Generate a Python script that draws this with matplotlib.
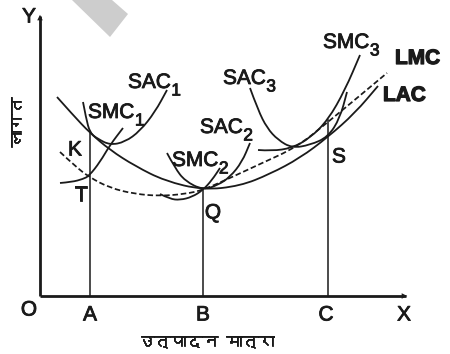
import matplotlib
matplotlib.use("Agg")
import matplotlib.pyplot as plt
from matplotlib.path import Path
from matplotlib.patches import PathPatch, Polygon, FancyArrowPatch
from matplotlib import font_manager
import matplotlib.patheffects as pe

# ---------------- data (output on x, cost on y; origin O at 0,0) ----------------
lac_x = [17, 33, 50, 70, 95, 125, 163, 200, 230, 260, 288, 315, 338]
lac_y = [199, 181, 163, 146, 130, 115, 106, 110, 122, 138, 159, 183, 210]

lmc_x = [20, 35, 49, 70, 95, 120, 145, 163, 190, 220, 257, 288, 317, 347]
lmc_y = [144, 130, 119, 108, 102, 100, 102, 106, 118, 132, 149, 174, 198, 223]

sac1_x = [43, 46, 50, 58, 70, 85, 100, 115, 127]
sac1_y = [194, 178, 163, 157, 151, 154, 165, 184, 206]

smc1_x = [20, 32, 43, 49, 60, 70, 83]
smc1_y = [113, 114, 117, 120, 134, 151, 168]

sac2_x = [127, 135, 145, 163, 178, 190, 202, 210]
sac2_y = [143, 128, 115, 106, 111, 119, 134, 153]

smc2_x = [120, 130, 140, 152, 163, 172, 180]
smc2_y = [102, 97, 96, 99, 106, 116, 128]

sac3_x = [210, 218, 227, 238, 252, 270, 288, 300, 307]
sac3_y = [208, 186, 168, 156, 148, 151, 159, 178, 204]

smc3_x = [218, 232, 252, 270, 288, 305, 320]
smc3_y = [146, 145, 148, 158, 176, 206, 241]

# output levels A, B, C and the heights of the guide lines
out_names = ["A", "B", "C"]
out_x = [50, 163, 288]
guide_top = [163, 106, 176]

point_names = ["K", "T", "Q", "S"]
point_pos = [(35, 146), (41, 101), (173, 83), (299, 139)]

curve_names = ["SAC", "SMC", "SMC", "SAC", "SAC", "SMC", "LMC", "LAC"]
curve_subs = ["1", "1", "2", "2", "3", "3", "", ""]
curve_label_pos = [(88, 208), (48, 178), (132, 130), (160, 163), (183, 212), (283, 248), (355, 232), (343, 195)]
curve_label_bold = [False, False, False, False, False, False, True, True]

x_axis_end = 370
y_axis_end = 284
x_title = "उत्पादन मात्रा"
y_title = "लागत"

# ---------------- fonts ----------------
def find_font(ch):
    try:
        from fontTools.ttLib import TTFont
    except Exception:
        return None
    for f in font_manager.fontManager.ttflist:
        try:
            tt = TTFont(f.fname, fontNumber=0, lazy=True)
            cmap = tt.getBestCmap()
            if cmap and ord(ch) in cmap:
                return f.name
        except Exception:
            continue
    return None

deva = find_font("ल")
deva_family = [deva, "DejaVu Sans"] if deva else ["DejaVu Sans"]

plt.rcParams["font.family"] = ["Liberation Sans", "DejaVu Sans"]

INK = "#1a1a1a"
heavy = [pe.withStroke(linewidth=0.6, foreground=INK)]
heavier = [pe.withStroke(linewidth=0.9, foreground=INK)]

fig = plt.figure(figsize=(4.5, 3.54), dpi=100)
ax = fig.add_axes([0, 0, 1, 1])
ax.set_xlim(-40, 410)
ax.set_ylim(-58, 296)
ax.axis("off")

# light gray stripe at the top
ax.add_patch(Polygon([(32, 296), (72, 296), (88, 282), (70, 259)], closed=True,
                     facecolor="#cdcdcd", edgecolor="none", zorder=0))


def smooth(xs, ys, **kw):
    pts = list(zip(xs, ys))
    verts = [pts[0]]
    codes = [Path.MOVETO]
    for i in range(1, len(pts) - 1):
        mid = ((pts[i][0] + pts[i + 1][0]) / 2, (pts[i][1] + pts[i + 1][1]) / 2)
        verts += [pts[i], mid]
        codes += [Path.CURVE3, Path.CURVE3]
    verts.append(pts[-1])
    codes.append(Path.LINETO)
    ax.add_patch(PathPatch(Path(verts, codes), facecolor="none", **kw))


solid = dict(edgecolor=INK, lw=1.3, zorder=3)
for xs, ys in [(lac_x, lac_y), (sac1_x, sac1_y), (smc1_x, smc1_y), (sac2_x, sac2_y),
               (smc2_x, smc2_y), (sac3_x, sac3_y), (smc3_x, smc3_y)]:
    smooth(xs, ys, **solid)
smooth(lmc_x, lmc_y, edgecolor=INK, lw=1.25, linestyle=(0, (3.2, 1.6)), zorder=3)

# axes with arrows
ax.plot([0, 0], [0, y_axis_end - 4], color=INK, lw=2.0, solid_capstyle="butt", zorder=4)
ax.plot([0, x_axis_end - 4], [0, 0], color=INK, lw=2.0, solid_capstyle="butt", zorder=4)
ax.add_patch(FancyArrowPatch((0, y_axis_end - 8), (0, y_axis_end), arrowstyle="-|>",
                             mutation_scale=10, color=INK, lw=0, zorder=5))
ax.add_patch(FancyArrowPatch((x_axis_end - 8, 0), (x_axis_end, 0), arrowstyle="-|>",
                             mutation_scale=10, color=INK, lw=0, zorder=5))

# guide lines
for xv, top in zip(out_x, guide_top):
    ax.plot([xv, xv], [0, top], color=INK, lw=1.1, zorder=2)

fs = 15
def letter(x, y, s):
    ax.text(x, y, s, fontsize=fs, ha="center", va="center", color=INK, path_effects=heavy)

for name, xv in zip(out_names, out_x):
    letter(xv - (2 if name == "C" else 0), -19, name)
letter(-11, -14, "O")
letter(364, -19, "X")
letter(-11, 279, "Y")

for name, (px, py) in zip(point_names, point_pos):
    letter(px, py, name)

for name, sub, (px, py), b in zip(curve_names, curve_subs, curve_label_pos, curve_label_bold):
    t = ax.text(px, py, name, fontsize=fs, ha="left", va="baseline", color=INK,
                fontweight="bold" if b else "normal",
                path_effects=heavier if b else heavy)
    if sub:
        ax.annotate(sub, xy=(1, 0), xycoords=t, xytext=(0.3, -2.5), textcoords="offset points",
                    fontsize=12.5, ha="left", va="baseline", color=INK, path_effects=heavy)

ax.text(166, -46, x_title, fontsize=11.5, ha="center", va="center", color=INK,
        family=deva_family, path_effects=heavy)
ax.text(-22, 174, y_title, fontsize=12, ha="center", va="center", rotation=90,
        rotation_mode="anchor", color=INK, family=deva_family, path_effects=heavy)

fig.savefig("out.png", dpi=100, facecolor="white")
